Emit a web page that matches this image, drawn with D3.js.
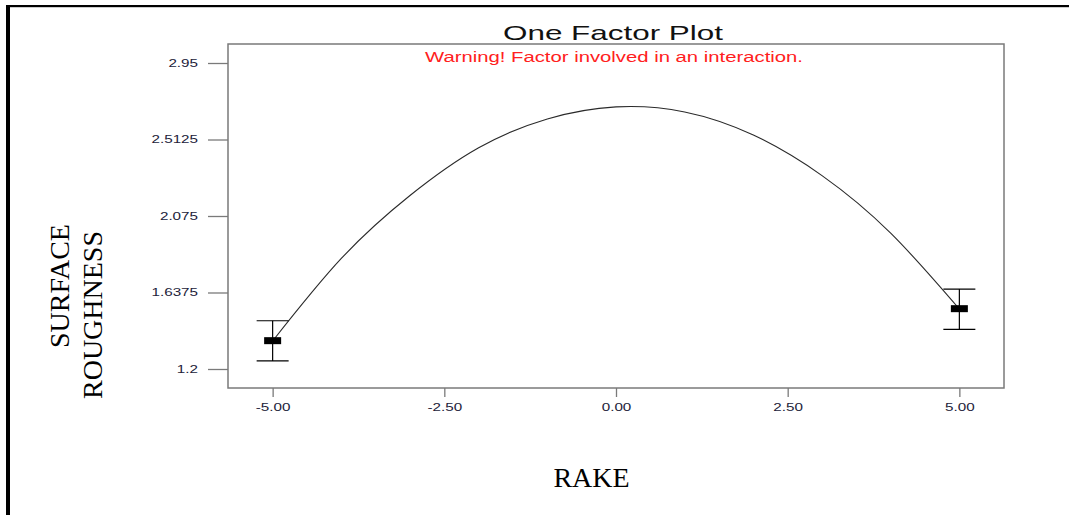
<!DOCTYPE html>
<html>
<head>
<meta charset="utf-8">
<script src="https://cdn.jsdelivr.net/npm/d3@7"></script>
<style>
  html, body { margin: 0; padding: 0; background: #fff; }
  svg { display: block; }
</style>
</head>
<body>
<svg id="chart" width="1069" height="515"></svg>
<script>
// Predicted surface roughness across the RAKE factor
const rakeLevels   = [-5, -4, -3, -2, -1, 0, 1, 2, 3, 4, 5];
const predicted    = [1.360, 1.832, 2.192, 2.465, 2.630, 2.699, 2.670, 2.538, 2.306, 1.977, 1.543];

// Design points with their interval bars
const pointRake    = [-5, 5];
const pointMean    = [1.362, 1.545];
const pointLow     = [1.246, 1.427];
const pointHigh    = [1.476, 1.657];

const yTickValues  = [1.2, 1.6375, 2.075, 2.5125, 2.95];
const yTickLabels  = ["1.2", "1.6375", "2.075", "2.5125", "2.95"];
const xTickValues  = [-5, -2.5, 0, 2.5, 5];
const xTickLabels  = ["-5.00", "-2.50", "0.00", "2.50", "5.00"];

const svg = d3.select("#chart");
const W = 1069, H = 515;
const box = { left: 228, top: 44, right: 1004, bottom: 388 };

const x = d3.scaleLinear().domain([-5.65, 5.65]).range([box.left, box.right]);
const y = d3.scaleLinear().domain([1.0913, 3.0587]).range([box.bottom, box.top]);

// page frame (left and top rules)
svg.append("rect").attr("x", 6).attr("y", 5).attr("width", W - 6).attr("height", 2.2).attr("fill", "#000");
svg.append("rect").attr("x", 6).attr("y", 5).attr("width", 4).attr("height", H - 5).attr("fill", "#000");

const axisColor = "#7a7a7a";
const tickText = "#22223a";
const stretch = 1.45;

// horizontally widened tick labels
function widenLabels(g) {
  g.selectAll(".tick text").each(function () {
    const t = d3.select(this);
    const tx = +t.attr("x") || 0;
    t.attr("x", 0).attr("transform", `translate(${tx},0) scale(${stretch},1)`);
  });
}

// y axis
const yAxis = d3.axisLeft(y)
  .tickValues(yTickValues)
  .tickFormat((d, i) => yTickLabels[i])
  .tickSize(20)
  .tickPadding(10);
const gy = svg.append("g").attr("transform", `translate(${box.left},0)`).call(yAxis);
gy.select(".domain").remove();
gy.selectAll(".tick line").attr("stroke", axisColor).attr("stroke-width", 1.3);
gy.selectAll(".tick text")
  .attr("fill", tickText)
  .style("font-family", "'Liberation Sans', Arial, sans-serif")
  .style("font-size", "10.5px");
widenLabels(gy);

// x axis
const xAxis = d3.axisBottom(x)
  .tickValues(xTickValues)
  .tickFormat((d, i) => xTickLabels[i])
  .tickSize(9)
  .tickPadding(7);
const gx = svg.append("g").attr("transform", `translate(0,${box.bottom})`).call(xAxis);
gx.select(".domain").remove();
gx.selectAll(".tick line").attr("stroke", axisColor).attr("stroke-width", 1.3);
gx.selectAll(".tick text")
  .attr("fill", tickText)
  .style("font-family", "'Liberation Sans', Arial, sans-serif")
  .style("font-size", "10.5px");
widenLabels(gx);

// plot frame
svg.append("rect")
  .attr("x", box.left).attr("y", box.top)
  .attr("width", box.right - box.left).attr("height", box.bottom - box.top)
  .attr("fill", "none").attr("stroke", axisColor).attr("stroke-width", 1.5);

// title and warning
svg.append("text")
  .attr("x", 613).attr("y", 40)
  .attr("text-anchor", "middle")
  .attr("textLength", 220).attr("lengthAdjust", "spacingAndGlyphs")
  .style("font-family", "'Liberation Sans', Arial, sans-serif")
  .style("font-size", "21px")
  .attr("fill", "#111")
  .text("One Factor Plot");

svg.append("text")
  .attr("x", 614).attr("y", 61.5)
  .attr("text-anchor", "middle")
  .attr("textLength", 378).attr("lengthAdjust", "spacingAndGlyphs")
  .style("font-family", "'Liberation Sans', Arial, sans-serif")
  .style("font-size", "14px")
  .attr("fill", "#ff2020")
  .text("Warning! Factor involved in an interaction.");

// prediction curve
const line = d3.line()
  .x((d, i) => x(rakeLevels[i]))
  .y(d => y(d))
  .curve(d3.curveNatural);
svg.append("path")
  .datum(predicted)
  .attr("d", line)
  .attr("fill", "none")
  .attr("stroke", "#2a2a2a")
  .attr("stroke-width", 1.1);

// interval bars with caps and mean markers
const pts = pointRake.map((r, i) => ({ r, m: pointMean[i], lo: pointLow[i], hi: pointHigh[i] }));
const gp = svg.append("g");
gp.selectAll(".stem").data(pts).join("line")
  .attr("x1", d => x(d.r)).attr("x2", d => x(d.r))
  .attr("y1", d => y(d.hi)).attr("y2", d => y(d.lo))
  .attr("stroke", "#000").attr("stroke-width", 1.2);
gp.selectAll(".capHi").data(pts).join("line")
  .attr("x1", d => x(d.r) - 16).attr("x2", d => x(d.r) + 16)
  .attr("y1", d => y(d.hi)).attr("y2", d => y(d.hi))
  .attr("stroke", "#000").attr("stroke-width", 1.2);
gp.selectAll(".capLo").data(pts).join("line")
  .attr("x1", d => x(d.r) - 16).attr("x2", d => x(d.r) + 16)
  .attr("y1", d => y(d.lo)).attr("y2", d => y(d.lo))
  .attr("stroke", "#000").attr("stroke-width", 1.2);
gp.selectAll(".mean").data(pts).join("rect")
  .attr("x", d => x(d.r) - 8.5).attr("y", d => y(d.m) - 3.5)
  .attr("width", 17).attr("height", 7)
  .attr("fill", "#000");

// axis titles
const serif = "'Liberation Serif', 'Times New Roman', serif";
svg.append("text")
  .attr("transform", "translate(69,286) rotate(-90)")
  .attr("text-anchor", "middle")
  .style("font-family", serif).style("font-size", "28px")
  .attr("fill", "#000")
  .text("SURFACE");
svg.append("text")
  .attr("transform", "translate(101.5,315) rotate(-90)")
  .attr("text-anchor", "middle")
  .style("font-family", serif).style("font-size", "28px")
  .attr("fill", "#000")
  .text("ROUGHNESS");
svg.append("text")
  .attr("x", 591.5).attr("y", 487)
  .attr("text-anchor", "middle")
  .style("font-family", serif).style("font-size", "28px")
  .attr("fill", "#000")
  .text("RAKE");
</script>
</body>
</html>
